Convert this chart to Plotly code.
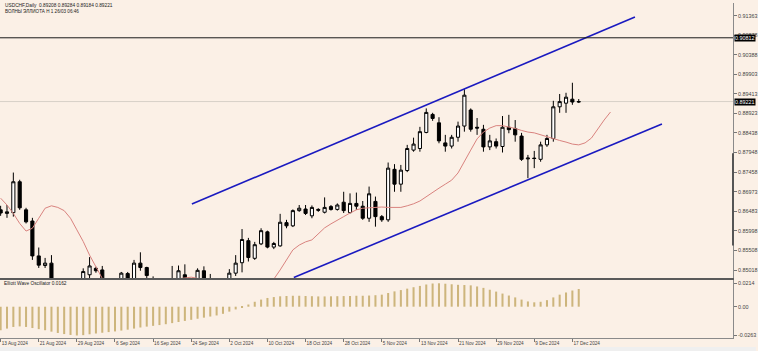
import plotly.graph_objects as go
from plotly.subplots import make_subplots
import pandas as pd

# ---------------- data ----------------
dates = pd.bdate_range("2024-08-13", "2024-12-18")
bar_idx = list(range(len(dates)))

open_ = [0.8652, 0.8643, 0.8645, 0.8722, 0.8652, 0.8624, 0.8537, 0.8513, 0.8519, 0.8470,
         0.8440, 0.8465, 0.8430, 0.8460, 0.8490, 0.8506, 0.8502, 0.8460, 0.8440, 0.8470,
         0.8493, 0.8465, 0.8519, 0.8508, 0.8470, 0.8440, 0.8460, 0.8455, 0.8470, 0.8490,
         0.8470, 0.8460, 0.8500, 0.8470, 0.8450, 0.8460, 0.8478, 0.8494, 0.8520, 0.8575,
         0.8531, 0.8567, 0.8597, 0.8559, 0.8562, 0.8620, 0.8612, 0.8650, 0.8654, 0.8637,
         0.8653, 0.8646, 0.8660, 0.8653, 0.8671, 0.8645, 0.8668, 0.8661, 0.8631, 0.8673,
         0.8635, 0.8627, 0.8753, 0.8716, 0.8750, 0.8801, 0.8805, 0.8845, 0.8890, 0.8869,
         0.8819, 0.8811, 0.8833, 0.8861, 0.8901, 0.8858, 0.8853, 0.8809, 0.8822, 0.8810,
         0.8858, 0.8855, 0.8836, 0.8779, 0.8781, 0.8778, 0.8814, 0.8830, 0.8909, 0.8918,
         0.8928, 0.89208]
high = [0.8662, 0.8664, 0.8745, 0.8727, 0.8657, 0.8632, 0.8558, 0.8532, 0.8539, 0.8478,
        0.8475, 0.8478, 0.8470, 0.8506, 0.8534, 0.8510, 0.8512, 0.8475, 0.8478, 0.8497,
        0.8497, 0.8527, 0.8546, 0.8510, 0.8486, 0.8475, 0.8478, 0.8512, 0.8513, 0.8516,
        0.8480, 0.8506, 0.8511, 0.8492, 0.8478, 0.8480, 0.8504, 0.8539, 0.8604, 0.8582,
        0.8572, 0.8606, 0.8600, 0.8572, 0.8642, 0.8627, 0.8653, 0.8664, 0.8664, 0.8663,
        0.8656, 0.8683, 0.8664, 0.8668, 0.8697, 0.8693, 0.8695, 0.8674, 0.8710, 0.8685,
        0.8639, 0.8770, 0.8766, 0.8764, 0.8814, 0.8832, 0.8859, 0.8905, 0.8894, 0.8883,
        0.8839, 0.8839, 0.8872, 0.8953, 0.8905, 0.8881, 0.8864, 0.8839, 0.8830, 0.8886,
        0.8889, 0.8876, 0.8844, 0.8789, 0.8799, 0.8822, 0.8839, 0.8924, 0.8941, 0.8944,
        0.8969, 0.89284]
low = [0.8637, 0.8632, 0.8635, 0.8652, 0.8618, 0.8527, 0.8507, 0.8507, 0.8460, 0.8430,
       0.8425, 0.8420, 0.8415, 0.8440, 0.8470, 0.8495, 0.8450, 0.8430, 0.8400, 0.8460,
       0.8470, 0.8450, 0.8500, 0.8475, 0.8420, 0.8420, 0.8420, 0.8440, 0.8460, 0.8460,
       0.8440, 0.8450, 0.8450, 0.8430, 0.8440, 0.8450, 0.8470, 0.8487, 0.8496, 0.8523,
       0.8527, 0.8564, 0.8556, 0.8554, 0.8560, 0.8606, 0.8609, 0.8647, 0.8639, 0.8631,
       0.8647, 0.8643, 0.8650, 0.8650, 0.8644, 0.8643, 0.8652, 0.8627, 0.8622, 0.8610,
       0.8622, 0.8622, 0.8697, 0.8697, 0.8746, 0.8797, 0.8797, 0.8843, 0.8874, 0.8818,
       0.8797, 0.8805, 0.8822, 0.8847, 0.8847, 0.8839, 0.8797, 0.8801, 0.8805, 0.8795,
       0.8843, 0.8822, 0.8774, 0.8731, 0.8756, 0.8772, 0.8809, 0.8822, 0.8894, 0.8894,
       0.8914, 0.89184]
close = [0.8644, 0.8647, 0.8722, 0.8657, 0.8622, 0.8537, 0.8514, 0.8519, 0.8470, 0.8440,
         0.8465, 0.8430, 0.8460, 0.8498, 0.8512, 0.8500, 0.8460, 0.8440, 0.8470, 0.8494,
         0.8478, 0.8519, 0.8508, 0.8488, 0.8440, 0.8460, 0.8450, 0.8470, 0.8500, 0.8470,
         0.8450, 0.8501, 0.8470, 0.8450, 0.8460, 0.8470, 0.8494, 0.8519, 0.8578, 0.8533,
         0.8565, 0.8600, 0.8559, 0.8568, 0.8621, 0.8612, 0.8650, 0.8656, 0.8643, 0.8658,
         0.8651, 0.8658, 0.8653, 0.8664, 0.8650, 0.8668, 0.8661, 0.8631, 0.8692, 0.8635,
         0.8627, 0.8756, 0.8716, 0.8751, 0.8805, 0.8816, 0.8847, 0.8895, 0.8880, 0.8824,
         0.8811, 0.8833, 0.8861, 0.8938, 0.8853, 0.8856, 0.8809, 0.8824, 0.8811, 0.8858,
         0.8852, 0.8839, 0.8778, 0.8781, 0.8780, 0.8814, 0.8830, 0.8909, 0.8922, 0.8933,
         0.8921, 0.89221]

# moving average drawn with a forward shift (extends 5 bars past the last candle)
ma_values = [0.8681, 0.8664, 0.8643, 0.8618, 0.8599, 0.8606, 0.8631, 0.8656, 0.8662, 0.8658,
             0.8650, 0.8631, 0.8602, 0.8573, 0.8539, 0.8510, 0.8481, 0.8465, 0.8455, 0.8450,
             0.8448, 0.8450, 0.8455, 0.8462, 0.8468, 0.8472, 0.8476, 0.8478, 0.8480, 0.8482,
             0.8484, 0.8481, 0.8478, 0.8474, 0.8470, 0.8468, 0.8466, 0.8465, 0.8465, 0.8466,
             0.8468, 0.8472, 0.8476, 0.8479, 0.8502, 0.8527, 0.8552, 0.8564, 0.8572, 0.8577,
             0.8592, 0.8607, 0.8617, 0.8625, 0.8635, 0.8644, 0.8652, 0.8656, 0.8657, 0.8658,
             0.8659, 0.8658, 0.8658, 0.8658, 0.8662, 0.8667, 0.8674, 0.8685, 0.8697, 0.8706,
             0.8716, 0.8726, 0.8744, 0.8771, 0.8801, 0.8829, 0.8846, 0.8856, 0.8862, 0.8862,
             0.8859, 0.8855, 0.8850, 0.8846, 0.8844, 0.8839, 0.8834, 0.8829, 0.8825, 0.8821,
             0.8816, 0.8814, 0.8819, 0.8831, 0.8854, 0.8876, 0.8896]
ma_idx = list(range(len(ma_values)))

# Elliott Wave Oscillator histogram
ewo = [-0.0215, -0.0200, -0.0185, -0.0180, -0.0185, -0.0195, -0.0205, -0.0215, -0.0228, -0.0240,
       -0.0250, -0.0258, -0.0263, -0.0260, -0.0252, -0.0245, -0.0238, -0.0232, -0.0226, -0.0218,
       -0.0210, -0.0200, -0.0190, -0.0182, -0.0175, -0.0168, -0.0160, -0.0150, -0.0140, -0.0130,
       -0.0120, -0.0110, -0.0100, -0.0090, -0.0080, -0.0065, -0.0045, -0.0025, -0.0005, 0.0020,
       0.0045, 0.0065, 0.0080, 0.0088, 0.0095, 0.0098, 0.0100, 0.0100, 0.0098, 0.0096,
       0.0094, 0.0094, 0.0095, 0.0096, 0.0097, 0.0098, 0.0100, 0.0100, 0.0102, 0.0105,
       0.0110, 0.0125, 0.0140, 0.0152, 0.0165, 0.0178, 0.0190, 0.0203, 0.0212, 0.0214,
       0.0210, 0.0205, 0.0200, 0.0198, 0.0195, 0.0185, 0.0172, 0.0155, 0.0138, 0.0120,
       0.0102, 0.0085, 0.0065, 0.0048, 0.0040, 0.0045, 0.0060, 0.0085, 0.0110, 0.0130,
       0.0148, 0.0162]

# price channel (trend lines) endpoints: bar index / price
upper_x = [30.1, 99.85]
upper_y = [0.86665, 0.91331]
lower_x = [46.15, 104.1]
lower_y = [0.84831, 0.88661]

level_line = 0.90812
last_price = 0.89221

price_ticks = [0.91363, 0.90878, 0.90388, 0.89903, 0.89413, 0.88923, 0.88438,
               0.87948, 0.87458, 0.86973, 0.86483, 0.85998, 0.85508, 0.85018]
osc_ticks = [0.0214, 0.0, -0.0263]
osc_tick_text = ["0.0214", "0.00", "-0.0263"]

time_tick_idx = [0, 6, 12, 18, 24, 30, 36, 42, 48, 54, 60, 66, 72, 78, 84, 90]
time_tick_text = ["13 Aug 2024", "21 Aug 2024", "29 Aug 2024", "6 Sep 2024", "16 Sep 2024",
                  "24 Sep 2024", "2 Oct 2024", "10 Oct 2024", "18 Oct 2024", "28 Oct 2024",
                  "5 Nov 2024", "13 Nov 2024", "21 Nov 2024", "29 Nov 2024", "9 Dec 2024",
                  "17 Dec 2024"]

title_line1 = "USDCHF,Daily  0.89208 0.89284 0.89184 0.89221"
title_line2 = "ВОЛНЫ ЭЛЛИОТА Н 1 26/03 06:46"
osc_title = "Elliott Wave Oscillator 0.0162"

# ---------------- style ----------------
BG = "#FBF0E6"
FONT = "Liberation Sans"
W, H = 758, 351
ML, MR, MT, MB = 0, 23, 3, 13
PH = H - MT - MB
main_dom = [(H - MB - 278) / PH, 1.0]
osc_dom = [0.0, (H - MB - 280) / PH]

fig = make_subplots(rows=2, cols=1, shared_xaxes=True)

fig.add_trace(go.Candlestick(
    x=bar_idx, open=open_, high=high, low=low, close=close,
    increasing=dict(fillcolor="#FFFFFF", line=dict(color="#000000", width=1)),
    decreasing=dict(fillcolor="#000000", line=dict(color="#000000", width=1)),
    whiskerwidth=0, hoverinfo="skip"), row=1, col=1)

fig.add_trace(go.Scatter(x=ma_idx, y=ma_values, mode="lines",
                         line=dict(color="#D9837F", width=1), hoverinfo="skip"), row=1, col=1)

fig.add_trace(go.Scatter(x=upper_x, y=upper_y, mode="lines",
                         line=dict(color="#1A1AC0", width=1.6), hoverinfo="skip"), row=1, col=1)
fig.add_trace(go.Scatter(x=lower_x, y=lower_y, mode="lines",
                         line=dict(color="#1A1AC0", width=1.6), hoverinfo="skip"), row=1, col=1)

fig.add_trace(go.Bar(x=bar_idx, y=ewo, marker=dict(color="#CDB57C", line=dict(width=0)),
                     width=0.32, hoverinfo="skip"), row=2, col=1)

xr = [-0.1, -0.1 + 735 / 6.37]

fig.update_layout(
    width=W, height=H, margin=dict(l=ML, r=MR, t=MT, b=MB),
    paper_bgcolor=BG, plot_bgcolor=BG, showlegend=False,
    font=dict(family=FONT, size=6, color="#222222"),
    boxgap=0.3,
    xaxis=dict(domain=[0, 1], range=xr, rangeslider=dict(visible=False),
               showticklabels=False, showgrid=False, zeroline=False, ticks="",
               showline=True, linecolor="#5A5A5A", linewidth=2),
    yaxis=dict(domain=main_dom, range=[0.84819, 0.9168], side="right",
               tickvals=price_ticks, ticktext=[f"{v:.5f}" for v in price_ticks],
               ticks="outside", ticklen=3, tickcolor="#777777", tickwidth=1,
               tickfont=dict(size=5.4, color="#444444", family=FONT),
               showgrid=False, zeroline=False, showline=True, linecolor="#8A8A8A", linewidth=1),
    xaxis2=dict(domain=[0, 1], range=xr, matches="x",
                tickvals=time_tick_idx, ticktext=time_tick_text, tickangle=0,
                ticks="outside", ticklen=3, tickcolor="#777777",
                ticklabelposition="outside right",
                tickfont=dict(size=4.7, color="#444444", family=FONT),
                showgrid=False, zeroline=False, showline=True, linecolor="#8A8A8A", linewidth=1),
    yaxis2=dict(domain=osc_dom, range=[-0.0286, 0.0244], side="right",
                tickvals=osc_ticks, ticktext=osc_tick_text,
                ticks="outside", ticklen=3, tickcolor="#777777",
                tickfont=dict(size=5.4, color="#444444", family=FONT),
                showgrid=False, zeroline=False, showline=True, linecolor="#8A8A8A", linewidth=1),
)

# horizontal level and bid line
fig.add_shape(type="line", xref="x domain", yref="y", x0=0, x1=1, y0=level_line, y1=level_line,
              line=dict(color="#1A1A1A", width=1))
fig.add_shape(type="line", xref="x domain", yref="y", x0=0, x1=1, y0=last_price, y1=last_price,
              line=dict(color="#D8D0C8", width=1), layer="below")
# darker segment on the price scale border
fig.add_shape(type="line", xref="x domain", yref="y", x0=1, x1=1, y0=0.8793, y1=0.8563,
              line=dict(color="#555555", width=2))
# bottom strip (pixels 347..351)
fig.add_shape(type="rect", xref="paper", yref="paper", x0=0, x1=758 / 735,
              y0=-(H - (H - MB)) / PH, y1=-(347 - (H - MB)) / PH,
              line=dict(width=0), fillcolor="#EFEFEF", layer="below")

for val in (level_line, last_price):
    fig.add_annotation(xref="paper", yref="y", x=1, y=val, xanchor="left", yanchor="middle",
                       xshift=1, text=f"{val:.5f}", showarrow=False, bgcolor="#000000",
                       borderpad=0, font=dict(color="#FFFFFF", size=5.4, family=FONT))

fig.add_annotation(xref="paper", yref="paper", x=0.004, y=1 - 2.5 / PH, xanchor="left",
                   yanchor="middle", text=title_line1, showarrow=False,
                   font=dict(size=4.8, color="#222222", family=FONT))
fig.add_annotation(xref="paper", yref="paper", x=0.004, y=1 - 8.3 / PH, xanchor="left",
                   yanchor="middle", text=title_line2, showarrow=False,
                   font=dict(size=4.6, color="#222222", family=FONT))
fig.add_annotation(xref="paper", yref="paper", x=0.003, y=(H - MB - 283.5) / PH, xanchor="left",
                   yanchor="middle", text=osc_title, showarrow=False,
                   font=dict(size=4.8, color="#222222", family=FONT))

fig.write_html("out.html")
